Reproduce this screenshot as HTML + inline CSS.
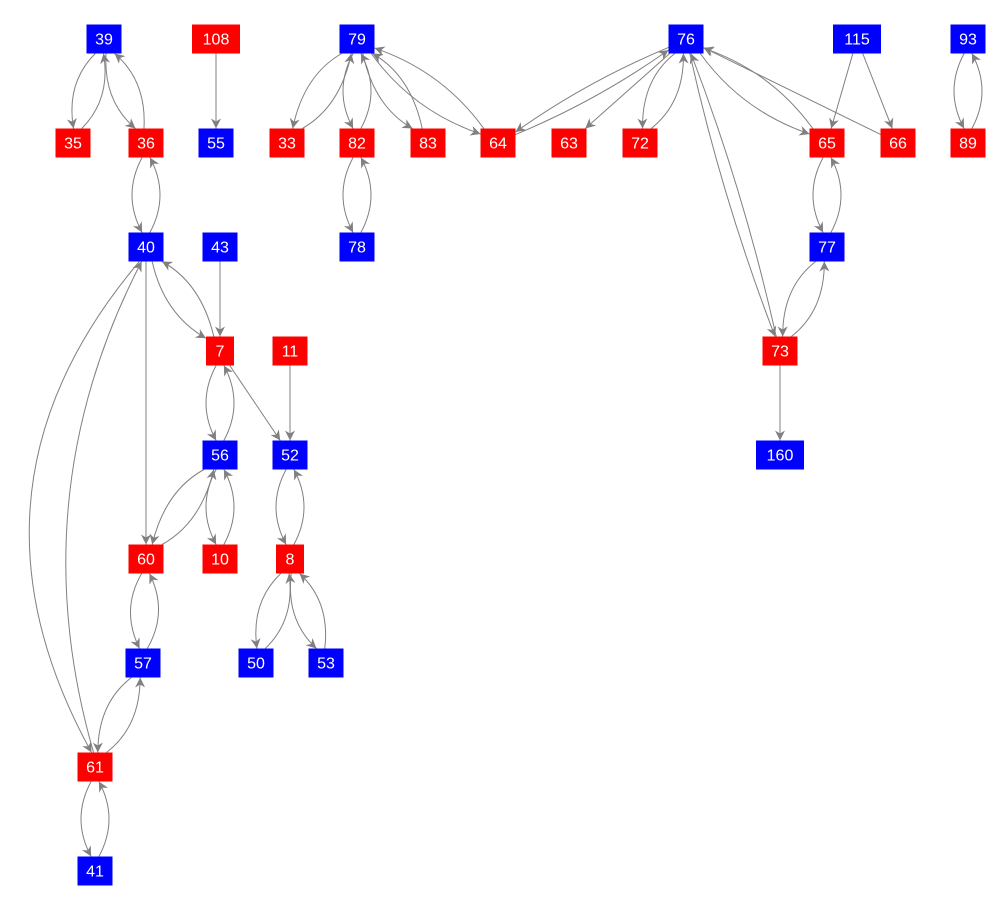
<!DOCTYPE html>
<html><head><meta charset="utf-8"><style>
html,body{margin:0;padding:0;background:#fff;}
svg{display:block}
text{font-family:"Liberation Sans",sans-serif;font-size:16px;fill:#fff;text-anchor:middle;dominant-baseline:central}
</style></head><body>
<svg id="s" width="996" height="912" xmlns="http://www.w3.org/2000/svg">
<defs><marker id="a" viewBox="0 0 10 10" refX="10" refY="5" markerWidth="13" markerHeight="10" markerUnits="userSpaceOnUse" orient="auto"><path d="M0,0 L10,5 L0,10 L3,5z" fill="#808080"/></marker></defs>
<g id="e"></g><g id="n"></g>
</svg>
<script>
var B="#0000ff",R="#ff0000";
var N={
39:[104,39,B],108:[216,39,R],79:[357,39,B],76:[686,39,B],115:[857,39,B],93:[968,39,B],
35:[73,143,R],36:[146,143,R],55:[216,143,B],33:[287,143,R],82:[357,143,R],83:[428,143,R],64:[498,143,R],63:[569,143,R],72:[640,143,R],65:[827,143,R],66:[898,143,R],89:[968,143,R],
40:[146,247,B],43:[220,247,B],78:[357,247,B],77:[827,247,B],
7:[220,351,R],11:[290,351,R],73:[780,351,R],
56:[220,455,B],52:[290,455,B],160:[780,455,B],
60:[146,559,R],10:[220,559,R],8:[290,559,R],
57:[143,663,B],50:[256,663,B],53:[326,663,B],
61:[95,767,R],41:[95,871,B]};
function W(k){var l=String(k).length;return l==1?28:l==2?35:48;}
var H=29;
var E=[[39,35],[35,39],[39,36],[36,39],[108,55],[36,40],[40,36],[79,33],[33,79],[79,82],[82,79],[79,83],[83,79],[79,64],[64,79],[82,78],[78,82],[76,64],[64,76],[76,63],[76,72],[72,76],[76,65],[65,76],[66,76],[115,65],[115,66],[76,73],[73,76],[65,77],[77,65],[77,73],[73,77],[73,160],[93,89],[89,93],
[40,7],[7,40],[43,7],[40,60],[40,61],[61,40],[7,56],[56,7],[7,52],[11,52],[56,60],[60,56],[56,10],[10,56],[52,8],[8,52],[8,50],[50,8],[8,53],[53,8],[60,57],[57,60],[57,61],[61,57],[61,41],[41,61]];
var set={};E.forEach(function(e){set[e[0]+"_"+e[1]]=1;});
function clip(cx,cy,w,h,dx,dy){var t=Infinity;if(dx)t=Math.min(t,(w/2)/Math.abs(dx));if(dy)t=Math.min(t,(h/2)/Math.abs(dy));return [cx+dx*t,cy+dy*t];}
var g=document.getElementById("e"),s="";
E.forEach(function(e){var a=N[e[0]],b=N[e[1]];var dx=b[0]-a[0],dy=b[1]-a[1],L=Math.hypot(dx,dy);var ux=dx/L,uy=dy/L;
var off=set[e[1]+"_"+e[0]]?(L>200?6:Math.min(14,L*0.1+5)):0;
if(e[0]==40&&e[1]==61)off=90;if(e[0]==61&&e[1]==40)off=-52;
var mx=(a[0]+b[0])/2-uy*off,my=(a[1]+b[1])/2+ux*off;
var p=clip(a[0],a[1],W(e[0]),H,mx-a[0],my-a[1]),q=clip(b[0],b[1],W(e[1]),H,mx-b[0],my-b[1]);
s+='<path d="M'+p[0]+','+p[1]+' Q'+(2*mx-(p[0]+q[0])/2)+','+(2*my-(p[1]+q[1])/2)+' '+q[0]+','+q[1]+'" fill="none" stroke="#808080" stroke-width="1" marker-end="url(#a)"/>';});
g.innerHTML=s;s="";
for(var k in N){var v=N[k],w=W(k);s+='<rect x="'+(v[0]-w/2)+'" y="'+(v[1]-H/2)+'" width="'+w+'" height="'+H+'" fill="'+v[2]+'"/><text x="'+v[0]+'" y="'+(v[1]+1)+'">'+k+'</text>';}
document.getElementById("n").innerHTML=s;
</script>
</body></html>
